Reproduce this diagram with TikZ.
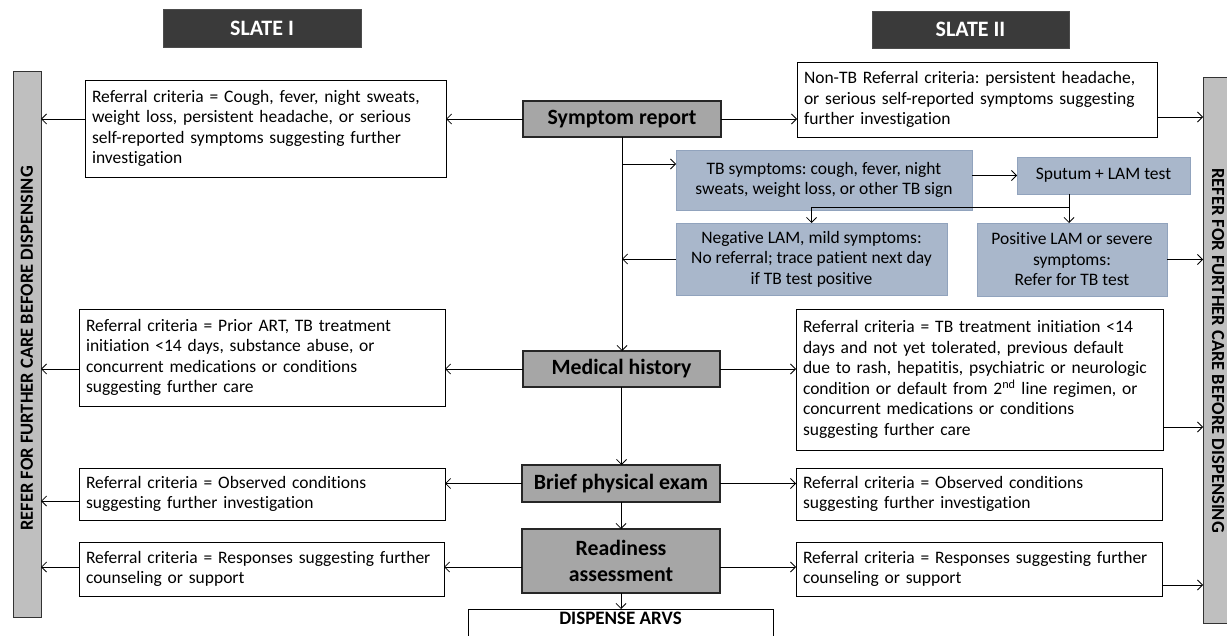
\documentclass[tikz,border=0pt]{standalone}
\usepackage{fontspec}
\setmainfont{Carlito}[Ligatures={NoCommon}]
\usetikzlibrary{arrows.meta,calc}
\definecolor{slatedark}{HTML}{3A3A3A}
\definecolor{procgray}{HTML}{A6A6A6}
\definecolor{bargray}{HTML}{BFBFBF}
\definecolor{bluefill}{HTML}{A9B7CB}
\definecolor{bluedraw}{HTML}{91A3BD}
\frenchspacing
\tikzset{
  refbox/.style={draw=black, line width=0.9pt, fill=white, align=left, inner xsep=7pt,
    font=\fontsize{17.5}{20.5}\selectfont, anchor=north west, outer sep=0pt},
  procbox/.style={draw=black!85, line width=1.1pt, fill=procgray, align=center,
    font=\fontsize{21.8}{26}\selectfont\bfseries, anchor=north west, outer sep=0pt},
  bluebox/.style={draw=bluedraw, line width=0.8pt, fill=bluefill, align=center,
    font=\fontsize{17.5}{20.5}\selectfont, anchor=north west, outer sep=0pt},
  slatebox/.style={draw=black!70, line width=0.8pt, fill=slatedark, text=white,
    font=\fontsize{22}{24}\selectfont\bfseries, anchor=north west, outer sep=0pt},
  barbox/.style={draw=black!80, line width=1pt, fill=bargray, anchor=center,
    font=\fontsize{18.5}{20}\selectfont\bfseries, outer sep=0pt, inner sep=0pt},
  arr/.style={-{Straight Barb[length=5pt,width=10pt]}, line width=0.8pt},
  conn/.style={line width=0.8pt}
}
\begin{document}
\begin{tikzpicture}[x=1pt,y=-1pt]
\useasboundingbox (0,0) rectangle (1227,636);

% headers
\node[slatebox, minimum width=198pt, minimum height=38pt] (s1) at (163,9) {SLATE I};
\node[slatebox, minimum width=197pt, minimum height=37pt] (s2) at (872,11) {SLATE II};

% side bars
\node[barbox, rotate=90, minimum width=545pt, minimum height=28pt] (lbar) at (27,344.5)
  {\raisebox{0pt}{REFER FOR FURTHER CARE BEFORE DISPENSING}\hspace*{8pt}};
\node[barbox, rotate=-90, minimum width=545pt, minimum height=30pt] (rbar) at (1218,350.5)
  {REFER FOR FURTHER CARE BEFORE DISPENSING};

% central process boxes
\node[procbox, minimum width=198pt, minimum height=36pt] (sym) at (523,101) {Symptom report};
\node[procbox, minimum width=197pt, minimum height=36pt] (med) at (523,351) {Medical history};
\node[procbox, minimum width=198pt, minimum height=37pt] (brief) at (522,465) {Brief physical exam};
\node[procbox, minimum width=198pt, minimum height=64pt] (ready) at (522,529) {Readiness\\assessment};
\node[anchor=north, minimum width=305pt, inner ysep=3pt, outer sep=0pt,
  font=\fontsize{19}{21}\selectfont\bfseries] (disp) at (620.5,609) {DISPENSE ARVS};
\draw[line width=0.9pt] (disp.north west) rectangle ++(305,40);

% slate I referral boxes
\node[refbox, minimum width=361pt, minimum height=97pt, text width=347pt] (l1) at (85,80)
  {Referral criteria = Cough, fever, night sweats,\\weight loss, persistent headache, or serious\\self-reported symptoms suggesting further\\investigation};
\node[refbox, minimum width=366pt, minimum height=97pt, text width=352pt] (l2) at (79,309)
  {Referral criteria = Prior ART, TB treatment\\initiation <14 days, substance abuse, or\\concurrent medications or conditions\\suggesting further care};
\node[refbox, minimum width=366pt, minimum height=52pt, text width=352pt] (l3) at (79,468)
  {Referral criteria = Observed conditions\\suggesting further investigation};
\node[refbox, minimum width=365pt, minimum height=54pt, text width=351pt] (l4) at (79,542)
  {Referral criteria = Responses suggesting further\\counseling or support};

% slate II referral boxes
\node[refbox, minimum width=360pt, minimum height=75pt, text width=346pt] (nontb) at (797,62)
  {Non-TB Referral criteria: persistent headache,\\or serious self-reported symptoms suggesting\\further investigation};
\node[refbox, minimum width=367pt, minimum height=141pt, text width=353pt] (r2) at (796,309)
  {Referral criteria = TB treatment initiation <14\\days and not yet tolerated, previous default\\due to rash, hepatitis, psychiatric or neurologic\\condition or default from 2\textsuperscript{nd} line regimen, or\\concurrent medications or conditions\\suggesting further care};
\node[refbox, minimum width=366pt, minimum height=52pt, text width=352pt] (r3) at (796,468)
  {Referral criteria = Observed conditions\\suggesting further investigation};
\node[refbox, minimum width=366pt, minimum height=54pt, text width=352pt] (r4) at (796,542)
  {Referral criteria = Responses suggesting further\\counseling or support};

% TB branch
\node[bluebox, minimum width=296pt, minimum height=60pt] (tb) at (676,150)
  {TB symptoms: cough, fever, night\\sweats, weight loss, or other TB sign};
\node[bluebox, minimum width=173pt, minimum height=37pt] (sput) at (1017,157) {Sputum + LAM test};
\node[bluebox, minimum width=271pt, minimum height=72pt] (neg) at (676,223)
  {Negative LAM, mild symptoms:\\No referral; trace patient next day\\if TB test positive};
\node[bluebox, minimum width=190pt, minimum height=73pt] (pos) at (977,223)
  {Positive LAM or severe\\symptoms:\\Refer for TB test};

\coordinate (split) at (1069,207);

% connectors: symptom report
\draw[arr] (sym.west) -- (l1.east |- sym.west);
\draw[arr] (l1.west |- sym.west) -- (lbar.south |- sym.west);
\draw[arr] (sym.east) -- (nontb.west |- sym.east);
\draw[arr] (nontb.east |- 0,117) -- (rbar.south |- 0,117);
\draw[arr] (sym.south) -- (sym.south |- med.north);
\draw[arr] (sym.south |- 0,164) -- (tb.west |- 0,164);
\draw[arr] (tb.east |- sput.west) -- (sput.west);
\draw[conn] (split |- sput.south) -- (split);
\draw[arr] (split) -| (neg.north);
\draw[arr] (split) -- (split |- pos.north);
\draw[arr] (neg.west) -- (sym.south |- neg.west);
\draw[arr] (pos.east) -- (rbar.south |- pos.east);

% medical history
\draw[arr] (med.west) -- (l2.east |- med.west);
\draw[arr] (l2.west |- med.west) -- (lbar.south |- med.west);
\draw[arr] (med.east) -- (r2.west |- med.east);
\draw[arr] (r2.east |- 0,427) -- (rbar.south |- 0,427);
\draw[arr] (med.south) -- (med.south |- brief.north);

% brief physical exam
\draw[arr] (brief.west) -- (l3.east |- brief.west);
\draw[arr] (l3.west |- 0,501) -- (lbar.south |- 0,501);
\draw[arr] (brief.east) -- (r3.west |- brief.east);
\draw[arr] (brief.south) -- (brief.south |- ready.north);

% readiness
\draw[arr] (ready.west |- 0,567) -- (l4.east |- 0,567);
\draw[arr] (l4.west |- 0,567) -- (lbar.south |- 0,567);
\draw[arr] (ready.east |- 0,567) -- (r4.west |- 0,567);
\draw[arr] (r4.east |- 0,585) -- (rbar.south |- 0,585);
\draw[arr] (ready.south) -- (ready.south |- disp.north);
\end{tikzpicture}
\end{document}
